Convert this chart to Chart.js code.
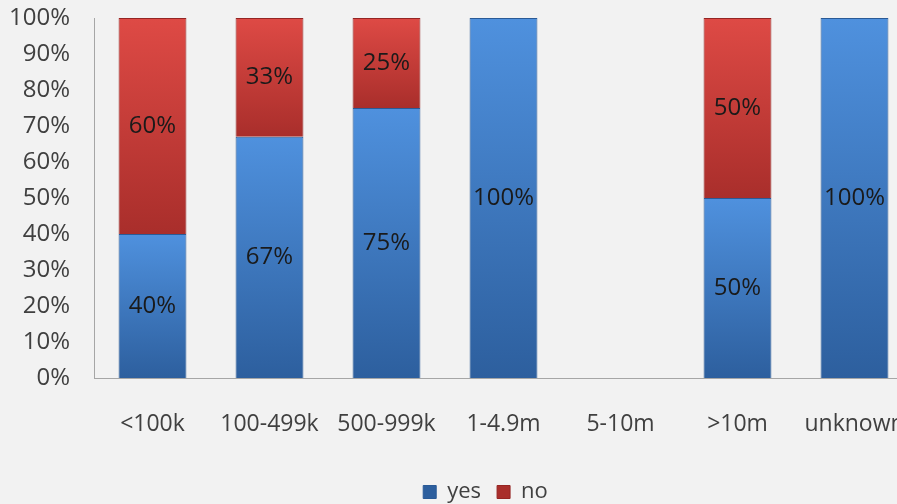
<!DOCTYPE html>
<html>
<head>
<meta charset="utf-8">
<script src="https://cdn.jsdelivr.net/npm/chart.js@4.4.0/dist/chart.umd.min.js"></script>
<style>
    html, body { margin: 0; padding: 0; background: #f2f2f2; overflow: hidden; }
    #wrap { width: 897px; height: 504px; overflow: hidden; }
    canvas { display: block; }
</style>
</head>
<body>
<div id="wrap"><canvas id="myChart" width="920" height="504"></canvas></div>
<script>
const categories = ['<100k', '100-499k', '500-999k', '1-4.9m', '5-10m', '>10m', 'unknown'];
const yesValues = [40, 67, 75, 100, null, 50, 100];
const noValues = [60, 33, 25, null, null, 50, null];
const yTicks = [0, 10, 20, 30, 40, 50, 60, 70, 80, 90, 100];

const FONT = "'Open Sans', 'Noto Sans', sans-serif";
const TEXT = '#404040';

// градиент для каждого сегмента: светлее сверху, темнее снизу
function segmentGradient(context, top, bottom) {
    const chart = context.chart;
    const y = chart.scales.y;
    if (!chart.chartArea || !y || context.type !== 'data') return bottom;
    const i = context.dataIndex;
    const start = context.datasetIndex === 0 ? 0 : (yesValues[i] || 0);
    const end = start + (context.raw || 0);
    const y0 = y.getPixelForValue(end);
    const y1 = y.getPixelForValue(start);
    if (!isFinite(y0) || !isFinite(y1) || y0 === y1) return bottom;
    const g = chart.ctx.createLinearGradient(0, y0, 0, y1);
    g.addColorStop(0, top);
    g.addColorStop(1, bottom);
    return g;
}

// подписи значений внутри столбцов
const insideLabels = {
    id: 'insideLabels',
    afterDatasetsDraw(chart) {
        const ctx = chart.ctx;
        ctx.save();
        ctx.font = '24px ' + FONT;
        ctx.fillStyle = '#1a1a1a';
        ctx.textAlign = 'center';
        ctx.textBaseline = 'middle';
        chart.data.datasets.forEach((ds, i) => {
            chart.getDatasetMeta(i).data.forEach((bar, j) => {
                const v = ds.data[j];
                if (v === null || v === undefined) return;
                const p = bar.getProps(['x', 'y', 'base'], true);
                ctx.fillText(v + '%', p.x, (p.y + p.base) / 2);
            });
        });
        ctx.restore();
    }
};

// легенда центрирована по всей ширине исходного графика
const shiftLegend = {
    id: 'shiftLegend',
    afterLayout(chart) {
        chart.legend.left += 29;
        chart.legend.right += 29;
    }
};

new Chart(document.getElementById('myChart'), {
    type: 'bar',
    data: {
        labels: categories,
        datasets: [
            {
                label: 'yes',
                data: yesValues,
                backgroundColor: (c) => c.type === 'data' ? segmentGradient(c, '#4f91de', '#2d5f9e') : '#3a72b8',
                borderColor: '#2a5a96',
                borderWidth: 1,
                categoryPercentage: 1,
                barPercentage: 0.58,
            },
            {
                label: 'no',
                data: noValues,
                backgroundColor: (c) => c.type === 'data' ? segmentGradient(c, '#de4a45', '#a92e2b') : '#c0393a',
                borderColor: '#952523',
                borderWidth: 1,
                categoryPercentage: 1,
                barPercentage: 0.58,
            }
        ]
    },
    options: {
        responsive: false,
        animation: false,
        layout: {
            padding: {top: 18, right: 7, left: 0, bottom: -9}
        },
        scales: {
            x: {
                stacked: true,
                grid: {display: false, drawTicks: false},
                border: {color: '#a6a6a6', width: 1},
                ticks: {color: TEXT, font: {family: FONT, size: 23}, padding: 33, maxRotation: 0, autoSkip: false},
                afterFit(scale) {
                    scale.height = 87;
                    scale.paddingLeft = 0;
                    scale.paddingRight = 0;
                }
            },
            y: {
                stacked: true,
                min: 0,
                max: 100,
                afterBuildTicks(scale) { scale.ticks = yTicks.map(v => ({value: v})); },
                grid: {display: false, drawTicks: false},
                border: {color: '#a6a6a6', width: 1},
                ticks: {
                    color: TEXT,
                    font: {family: FONT, size: 24},
                    padding: 24,
                    callback: (v) => v + '%'
                },
                afterFit(scale) {
                    scale.width = 94;
                    scale.paddingTop = 0;
                    scale.paddingBottom = 0;
                }
            }
        },
        plugins: {
            legend: {
                position: 'bottom',
                labels: {
                    color: TEXT,
                    font: {family: FONT, size: 22},
                    boxWidth: 13,
                    boxHeight: 13,
                    padding: 16
                }
            },
            tooltip: {enabled: false}
        }
    },
    plugins: [insideLabels, shiftLegend]
});
</script>
</body>
</html>
